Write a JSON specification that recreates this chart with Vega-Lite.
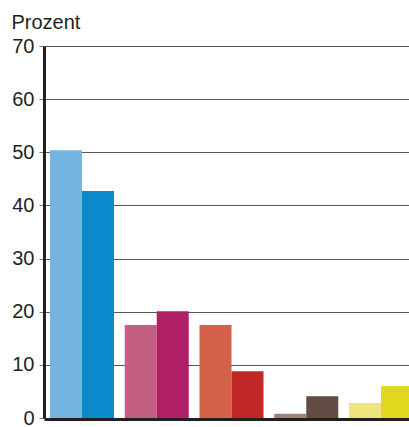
{
  "$schema": "https://vega.github.io/schema/vega-lite/v6.json",
  "width": 375,
  "height": 372,
  "autosize": "none",
  "padding": {"left": 44, "top": 46, "right": 0, "bottom": 9},
  "background": "white",
  "config": {"view": {"stroke": null}, "font": "Liberation Sans"},
  "data": {
    "values": [
      {"g": "1", "s": "a", "bar": "1a", "v": 50.4},
      {"g": "1", "s": "b", "bar": "1b", "v": 42.7},
      {"g": "2", "s": "a", "bar": "2a", "v": 17.5},
      {"g": "2", "s": "b", "bar": "2b", "v": 20.1},
      {"g": "3", "s": "a", "bar": "3a", "v": 17.5},
      {"g": "3", "s": "b", "bar": "3b", "v": 8.8},
      {"g": "4", "s": "a", "bar": "4a", "v": 0.8},
      {"g": "4", "s": "b", "bar": "4b", "v": 4.1},
      {"g": "5", "s": "a", "bar": "5a", "v": 2.8},
      {"g": "5", "s": "b", "bar": "5b", "v": 6.0}
    ]
  },
  "mark": {"type": "bar"},
  "encoding": {
    "x": {
      "field": "g",
      "type": "nominal",
      "scale": {"paddingInner": 0.1438, "paddingOuter": 0.08},
      "axis": {"title": null, "labels": false, "ticks": false, "domainColor": "#231f20", "domainWidth": 3, "offset": 1}
    },
    "xOffset": {"field": "s", "type": "nominal", "scale": {"paddingInner": 0, "paddingOuter": 0}},
    "y": {
      "field": "v",
      "type": "quantitative",
      "scale": {"domain": [0, 70], "nice": false},
      "axis": {
        "values": [0, 10, 20, 30, 40, 50, 60, 70],
        "title": "Prozent",
        "titleAngle": 0,
        "titleAlign": "left",
        "titleBaseline": "alphabetic",
        "titleX": -33,
        "titleY": -18,
        "titleFontSize": 20,
        "titleFontWeight": "normal",
        "titleColor": "#231f20",
        "labelFontSize": 20,
        "labelColor": "#231f20",
        "labelPadding": 5,
        "tickSize": 5,
        "tickColor": "#777777",
        "domainColor": "#231f20",
        "domainWidth": 3,
        "gridColor": "#555555",
        "gridWidth": 1
      }
    },
    "color": {
      "field": "bar",
      "type": "nominal",
      "scale": {
        "domain": ["1a", "1b", "2a", "2b", "3a", "3b", "4a", "4b", "5a", "5b"],
        "range": ["#74b4e2", "#0a89cb", "#c45f84", "#b01f64", "#d4624a", "#c22727", "#9b857d", "#624b42", "#eee57e", "#e0d71e"]
      },
      "legend": null
    }
  }
}
